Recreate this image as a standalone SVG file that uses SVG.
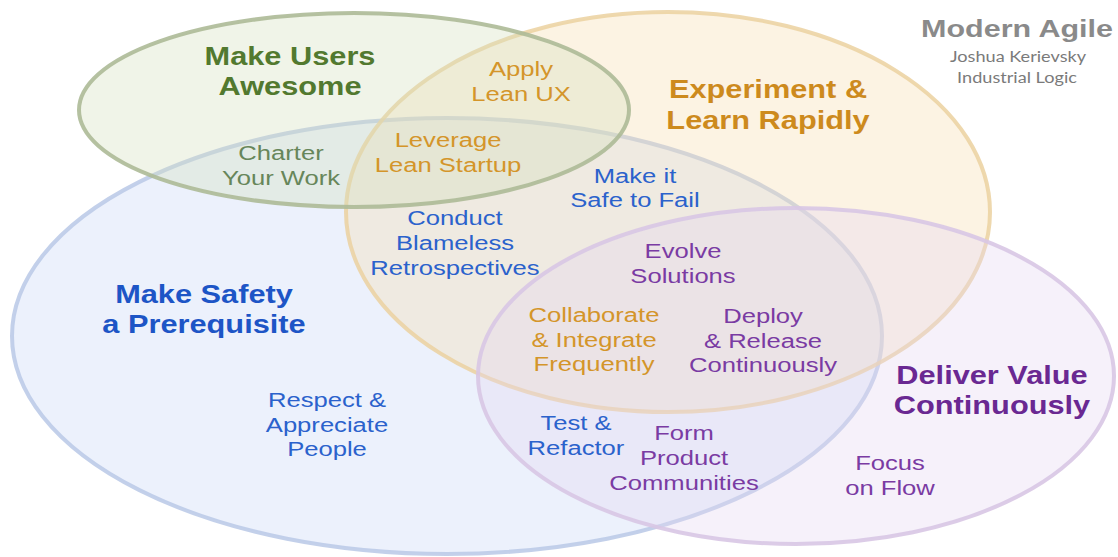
<svg xmlns="http://www.w3.org/2000/svg" width="1118" height="557" viewBox="0 0 1118 557">
  <style>
    text { font-family: "Liberation Sans", Arial, sans-serif; text-anchor: middle; }
    .r { font-size: 21px; }
    .b { font-size: 25px; font-weight: bold; }
    .green { fill: #52792f; }
    .greenm { fill: #67865a; }
    .orange { fill: #d4952a; }
    .orangeh { fill: #cd8a1d; }
    .blue { fill: #2b62cc; }
    .blueh { fill: #1d55c6; }
    .purple { fill: #7a3ba3; }
    .purpleh { fill: #6a2892; }
    .gray { fill: #8a8a8a; }
    .small { font-family: Lato, "Open Sans", sans-serif; font-size: 14.5px; fill: #7a7a7a; }
    .ring { stroke-width: 4; }
  </style>

  <rect width="1118" height="557" fill="#ffffff"/>

  <!-- the four overlapping sets -->
  <g id="sets">
    <ellipse id="set-safety" class="ring" cx="447" cy="336" rx="435" ry="218" fill="#c9d8f5" fill-opacity="0.35" stroke="#bccbe8" stroke-opacity="0.9"/>
    <ellipse id="set-experiment" class="ring" cx="668" cy="212" rx="322" ry="200" fill="#f7dcb0" fill-opacity="0.35" stroke="#ebd1a0" stroke-opacity="0.85"/>
    <ellipse id="set-users" class="ring" cx="354" cy="110" rx="275" ry="97" fill="#d4e0bc" fill-opacity="0.35" stroke="#adba97" stroke-opacity="0.9"/>
    <ellipse id="set-value" class="ring" cx="796" cy="376" rx="318" ry="168" fill="#e4d8f2" fill-opacity="0.35" stroke="#d8c6e4" stroke-opacity="0.9"/>
  </g>

  <!-- title block -->
  <g id="title">
    <text class="b gray" transform="translate(1017 0) scale(1.27 1)" y="37" style="font-size:24px">Modern Agile</text>
    <text class="small" transform="translate(1018 0) scale(1.25 1)" y="62">Joshua Kerievsky</text>
    <text class="small" transform="translate(1017 0) scale(1.25 1)" y="83">Industrial Logic</text>
  </g>

  <!-- set headings -->
  <g id="h-users" class="b green" transform="translate(290 0) scale(1.23 1)">
    <text y="65">Make Users</text>
    <text y="95">Awesome</text>
  </g>
  <g id="h-experiment" class="b orangeh" transform="translate(768 0) scale(1.23 1)">
    <text y="98">Experiment &amp;</text>
    <text y="129">Learn Rapidly</text>
  </g>
  <g id="h-safety" class="b blueh" transform="translate(204 0) scale(1.23 1)">
    <text y="303">Make Safety</text>
    <text y="333">a Prerequisite</text>
  </g>
  <g id="h-value" class="b purpleh" transform="translate(992 0) scale(1.23 1)">
    <text y="384">Deliver Value</text>
    <text y="414">Continuously</text>
  </g>

  <!-- practices -->
  <g id="p-apply-lean-ux" class="r orange" transform="translate(521 0) scale(1.22 1)">
    <text y="76">Apply</text>
    <text y="101">Lean UX</text>
  </g>
  <g id="p-charter" class="r greenm" transform="translate(281 0) scale(1.22 1)">
    <text y="160">Charter</text>
    <text y="185">Your Work</text>
  </g>
  <g id="p-leverage" class="r orange" transform="translate(448 0) scale(1.22 1)">
    <text y="147">Leverage</text>
    <text y="172">Lean Startup</text>
  </g>
  <g id="p-safe-to-fail" class="r blue" transform="translate(635 0) scale(1.22 1)">
    <text y="183">Make it</text>
    <text y="207">Safe to Fail</text>
  </g>
  <g id="p-retros" class="r blue" transform="translate(455 0) scale(1.22 1)">
    <text y="225">Conduct</text>
    <text y="250">Blameless</text>
    <text y="275">Retrospectives</text>
  </g>
  <g id="p-evolve" class="r purple" transform="translate(683 0) scale(1.22 1)">
    <text y="258">Evolve</text>
    <text y="283">Solutions</text>
  </g>
  <g id="p-collaborate" class="r orange" transform="translate(594 0) scale(1.22 1)">
    <text y="322">Collaborate</text>
    <text y="347">&amp; Integrate</text>
    <text y="371">Frequently</text>
  </g>
  <g id="p-deploy" class="r purple" transform="translate(763 0) scale(1.22 1)">
    <text y="323">Deploy</text>
    <text y="348">&amp; Release</text>
    <text y="372">Continuously</text>
  </g>
  <g id="p-respect" class="r blue" transform="translate(327 0) scale(1.22 1)">
    <text y="407">Respect &amp;</text>
    <text y="432">Appreciate</text>
    <text y="456">People</text>
  </g>
  <g id="p-test" class="r blue" transform="translate(576 0) scale(1.22 1)">
    <text y="430">Test &amp;</text>
    <text y="455">Refactor</text>
  </g>
  <g id="p-communities" class="r purple" transform="translate(684 0) scale(1.22 1)">
    <text y="440">Form</text>
    <text y="465">Product</text>
    <text y="490">Communities</text>
  </g>
  <g id="p-flow" class="r purple" transform="translate(890 0) scale(1.22 1)">
    <text y="470">Focus</text>
    <text y="495">on Flow</text>
  </g>
</svg>
